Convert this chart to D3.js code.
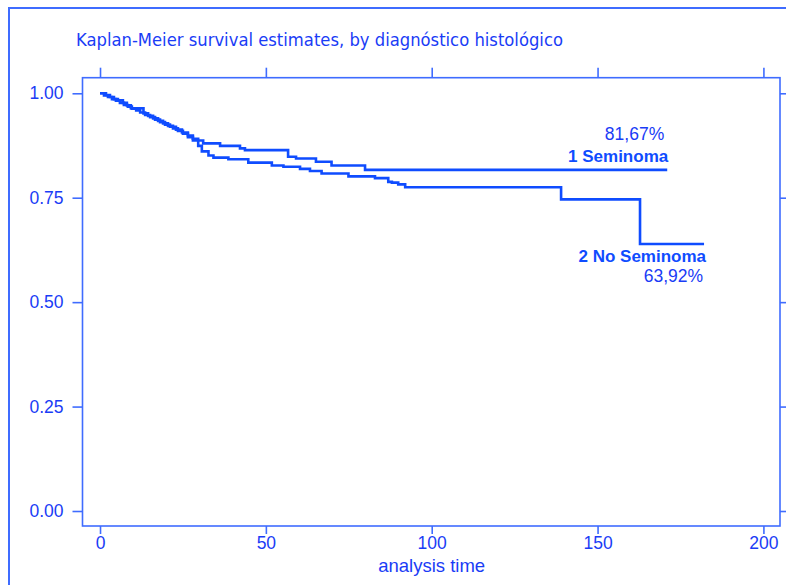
<!DOCTYPE html>
<html><head><meta charset="utf-8">
<script src="https://cdn.jsdelivr.net/npm/d3@7"></script>
<style>
html,body{margin:0;padding:0;background:#fff;}
svg{display:block;}
</style>
</head><body>
<svg id="c" width="786" height="585"></svg>
<script>
const title = "Kaplan-Meier survival estimates, by diagnóstico histológico";
const xTicks = [0, 50, 100, 150, 200];
const yTicks = [0, 0.25, 0.5, 0.75, 1.0];
const groupNames = ["1 Seminoma", "2 No Seminoma"];
const finalPct = ["81,67%", "63,92%"];

const semTime = [0,1.8,3.0,4.2,5.4,6.9,8.1,9.3,13.1,14.5,16.0,17.5,19.0,20.5,22.0,23.5,25.0,26.5,28.0,31.1,36.2,42.2,43.7,56.7,59.1,65.1,69.8,79.9,171.0];
const semSurv = [1,0.996,0.991,0.986,0.983,0.977,0.971,0.964,0.952,0.946,0.940,0.934,0.928,0.922,0.916,0.910,0.903,0.895,0.887,0.880,0.874,0.868,0.864,0.848,0.844,0.836,0.827,0.8167,0.8167];

const noTime = [0,1.2,2.4,3.6,4.8,6.0,7.2,8.4,9.6,10.9,12.1,13.6,15.1,16.6,18.1,19.6,21.1,22.9,24.7,26.5,28.0,29.6,30.7,32.7,34.2,38.7,44.7,51.8,55.3,60.3,63.3,66.8,74.9,82.9,86.9,88.0,89.9,92.0,139.0,162.8,182.1];
const noSurv = [1,0.995,0.991,0.986,0.982,0.977,0.972,0.968,0.963,0.959,0.954,0.948,0.943,0.937,0.931,0.925,0.920,0.913,0.906,0.899,0.891,0.874,0.861,0.851,0.846,0.842,0.834,0.827,0.824,0.819,0.814,0.808,0.801,0.797,0.788,0.786,0.782,0.775,0.746,0.6392,0.6392];

const textCol = "#1a3cf6";
const lineCol = "#0f4cff";
const frameCol = "#3f6cff";

const svg = d3.select("#c");
const L = 82.5, R = 780, T = 77.7, B = 526;
const x = d3.scaleLinear().domain([-5.28, 205.0]).range([L, R]);
const y = d3.scaleLinear().domain([-0.0359, 1.0373]).range([B, T]);

// outer frame
svg.append("rect").attr("x", 9).attr("y", 8).attr("width", 800).attr("height", 600)
  .attr("fill", "#fff").attr("stroke", frameCol).attr("stroke-width", 2);

// title
svg.append("text").attr("x", 76).attr("y", 46).text(title)
  .attr("font-family", "DejaVu Sans, Verdana, sans-serif").attr("font-size", 17.5)
  .attr("fill", textCol).attr("textLength", 487).attr("lengthAdjust", "spacingAndGlyphs");

// plot frame
svg.append("rect").attr("x", L).attr("y", T).attr("width", R - L).attr("height", B - T)
  .attr("fill", "none").attr("stroke", frameCol).attr("stroke-width", 1.6);

function styleAxis(g) {
  g.select(".domain").remove();
  g.selectAll(".tick line").attr("stroke", frameCol).attr("stroke-width", 1.6);
  g.selectAll(".tick text").attr("fill", textCol)
    .attr("font-family", "Liberation Sans, Arial, sans-serif").attr("font-size", 17.5);
}

svg.append("g").attr("transform", `translate(0,${B})`)
  .call(d3.axisBottom(x).tickValues(xTicks).tickSize(8).tickPadding(3).tickFormat(d3.format("d")))
  .call(styleAxis);
svg.append("g").attr("transform", `translate(0,${T})`)
  .call(d3.axisTop(x).tickValues(xTicks).tickSize(10).tickFormat(""))
  .call(styleAxis);
svg.append("g").attr("transform", `translate(${L},0)`)
  .call(d3.axisLeft(y).tickValues(yTicks).tickSize(10).tickPadding(9).tickFormat(d3.format(".2f")))
  .call(styleAxis);
svg.append("g").attr("transform", `translate(${R},0)`)
  .call(d3.axisRight(y).tickValues(yTicks).tickSize(10).tickFormat(""))
  .call(styleAxis);

// axis title
svg.append("text").attr("x", (x(0) + x(200)) / 2).attr("y", 572).attr("text-anchor", "middle")
  .text("analysis time").attr("fill", textCol)
  .attr("font-family", "Liberation Sans, Arial, sans-serif").attr("font-size", 18.5);

// curves
const line = d3.line().x(d => x(d[0])).y(d => y(d[1])).curve(d3.curveStepAfter);
const series = [d3.zip(semTime, semSurv), d3.zip(noTime, noSurv)];
series.forEach(s => {
  svg.append("path").attr("d", line(s)).attr("fill", "none")
    .attr("stroke", lineCol).attr("stroke-width", 2.6);
});

// labels
const font = "Liberation Sans, Arial, sans-serif";
const sEnd = x(semTime[semTime.length - 1]), sY = y(semSurv[semSurv.length - 1]);
svg.append("text").attr("x", sEnd - 3).attr("y", sY - 30).attr("text-anchor", "end")
  .text(finalPct[0]).attr("fill", textCol).attr("font-family", font).attr("font-size", 17.5);
svg.append("text").attr("x", sEnd + 1).attr("y", sY - 8).attr("text-anchor", "end")
  .text(groupNames[0]).attr("fill", lineCol).attr("font-family", font).attr("font-size", 17).attr("font-weight", "bold");

const nEnd = x(noTime[noTime.length - 1]), nY = y(noSurv[noSurv.length - 1]);
svg.append("text").attr("x", nEnd + 2).attr("y", nY + 18).attr("text-anchor", "end")
  .text(groupNames[1]).attr("fill", lineCol).attr("font-family", font).attr("font-size", 17).attr("font-weight", "bold");
svg.append("text").attr("x", nEnd - 1).attr("y", nY + 38).attr("text-anchor", "end")
  .text(finalPct[1]).attr("fill", textCol).attr("font-family", font).attr("font-size", 17.5);
</script>
</body></html>
